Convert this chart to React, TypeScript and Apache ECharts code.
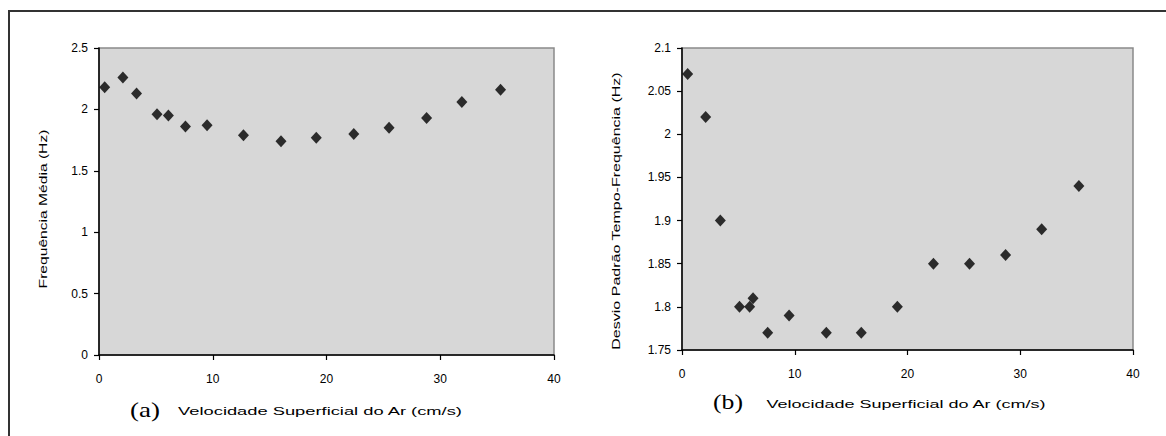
import React, { useEffect, useRef } from 'react';
import * as echarts from 'echarts';

// Panel (a): Frequência Média vs Velocidade Superficial do Ar
const velA = [0.5, 2.1, 3.3, 5.1, 6.1, 7.6, 9.5, 12.7, 16.0, 19.1, 22.4, 25.5, 28.8, 31.9, 35.3];
const freqA = [2.18, 2.26, 2.13, 1.96, 1.95, 1.86, 1.87, 1.79, 1.74, 1.77, 1.8, 1.85, 1.93, 2.06, 2.16];

// Panel (b): Desvio Padrão Tempo-Frequência vs Velocidade Superficial do Ar
const velB = [0.5, 2.1, 3.4, 5.1, 6.0, 6.3, 7.6, 9.5, 12.8, 15.9, 19.1, 22.3, 25.5, 28.7, 31.9, 35.2];
const desvB = [2.07, 2.02, 1.9, 1.8, 1.8, 1.81, 1.77, 1.79, 1.77, 1.77, 1.8, 1.85, 1.85, 1.86, 1.89, 1.94];

const xName = 'Velocidade Superficial do Ar (cm/s)';
const yNameA = 'Frequência Média (Hz)';
const yNameB = 'Desvio Padrão Tempo-Frequência (Hz)';
const tagA = '(a)';
const tagB = '(b)';

const SANS = '"Liberation Sans", Arial, sans-serif';
const SERIF = '"Liberation Serif", "Times New Roman", serif';

function measure(text: string, font: string): number {
  const ctx = document.createElement('canvas').getContext('2d')!;
  ctx.font = font;
  return ctx.measureText(text).width;
}

function stretchedText(text: string, cx: number, cy: number, target: number, size: number, family: string, rotation = 0) {
  const font = `${size}px ${family}`;
  const w = measure(text, font);
  return {
    type: 'text',
    x: cx,
    y: cy,
    rotation,
    scaleX: target / w,
    scaleY: 1,
    style: {
      text,
      font,
      fill: '#000',
      textAlign: 'center',
      textVerticalAlign: 'middle',
    },
  };
}

export default function App() {
  const ref = useRef<HTMLDivElement>(null);

  useEffect(() => {
    if (!ref.current) return;
    const chart = echarts.init(ref.current, undefined, { renderer: 'svg' });

    const axisCommon = {
      axisLine: { show: true, onZero: false, lineStyle: { color: '#000', width: 1.5 } },
      axisTick: { show: true, length: 5, lineStyle: { color: '#000', width: 1.2 } },
      splitLine: { show: false },
      axisLabel: { color: '#000', fontSize: 12, fontFamily: SANS },
    };

    const fmt = (v: number) => String(+v.toFixed(2));

    chart.setOption({
      animation: false,
      backgroundColor: '#fff',
      grid: [
        { left: 99, top: 48, width: 455, height: 307, show: true, backgroundColor: '#d7d7d7', borderColor: '#8a8a8a', borderWidth: 1.5 },
        { left: 682, top: 48, width: 451, height: 302, show: true, backgroundColor: '#d7d7d7', borderColor: '#8a8a8a', borderWidth: 1.5 },
      ],
      xAxis: [
        { ...axisCommon, type: 'value', gridIndex: 0, min: 0, max: 40, interval: 10, axisLabel: { ...axisCommon.axisLabel, margin: 18 } },
        { ...axisCommon, type: 'value', gridIndex: 1, min: 0, max: 40, interval: 10, axisLabel: { ...axisCommon.axisLabel, margin: 18 } },
      ],
      yAxis: [
        { ...axisCommon, type: 'value', gridIndex: 0, min: 0, max: 2.5, interval: 0.5, axisLabel: { ...axisCommon.axisLabel, margin: 11, formatter: fmt } },
        { ...axisCommon, type: 'value', gridIndex: 1, min: 1.75, max: 2.1, interval: 0.05, axisLabel: { ...axisCommon.axisLabel, margin: 11, formatter: fmt } },
      ],
      series: [
        {
          type: 'scatter',
          xAxisIndex: 0,
          yAxisIndex: 0,
          data: velA.map((v, i) => [v, freqA[i]]),
          symbol: 'diamond',
          symbolSize: [11, 12],
          itemStyle: { color: '#000' },
        },
        {
          type: 'scatter',
          xAxisIndex: 1,
          yAxisIndex: 1,
          data: velB.map((v, i) => [v, desvB[i]]),
          symbol: 'diamond',
          symbolSize: [11, 12],
          itemStyle: { color: '#000' },
        },
      ],
      graphic: [
        {
          type: 'rect',
          shape: { x: 9, y: 11, width: 1200, height: 500 },
          style: { fill: 'none', stroke: '#333', lineWidth: 2 },
          silent: true,
        },
        stretchedText(yNameA, 43, 209, 159, 11, SANS, Math.PI / 2),
        stretchedText(yNameB, 616, 211, 278, 11, SANS, Math.PI / 2),
        stretchedText(xName, 320, 411, 285, 11, SANS),
        stretchedText(xName, 906, 404, 280, 11, SANS),
        stretchedText(tagA, 145, 409, 30, 22, SERIF),
        stretchedText(tagB, 728, 402, 30, 22, SERIF),
      ],
    });

    return () => chart.dispose();
  }, []);

  return (
    <div
      ref={ref}
      style={{ position: 'absolute', left: 0, top: 0, width: 1166, height: 436 }}
    />
  );
}
